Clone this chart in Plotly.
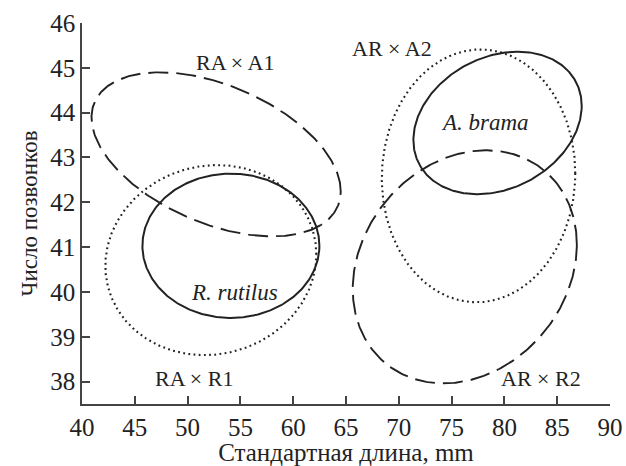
import numpy as np
import plotly.graph_objects as go

# Ellipse parameters (data units)
groups   = ["RA × A1", "R. rutilus", "RA × R1", "A. brama", "AR × A2", "AR × R2"]
center_x = [52.7, 54.1, 52.2, 79.35, 77.55, 76.25]
center_y = [43.07, 41.03, 40.71, 43.77, 42.59, 40.56]
half_x   = [11.8, 8.38, 9.99, 7.97, 9.16, 10.61]
half_y   = [1.83, 1.61, 2.12, 1.59, 2.82, 2.6]
corr     = [-0.45, 0.0, 0.06, 0.24, 0.02, 0.19]
styles   = ["longdash", "solid", "dot", "solid", "dot", "longdash"]

labels       = ["RA × A1", "AR × A2", "A. brama", "R. rutilus", "RA × R1", "AR × R2"]
label_x      = [54.5, 69.4, 78.2, 54.4, 50.6, 83.5]
label_y      = [45.13, 45.44, 43.77, 39.99, 38.07, 38.07]
label_italic = [False, False, True, True, False, False]

x_ticks = [40, 45, 50, 55, 60, 65, 70, 75, 80, 85, 90]
y_ticks = [38, 39, 40, 41, 42, 43, 44, 45, 46]

dash_map = {
    "solid": dict(dash="solid", width=2.0),
    "longdash": dict(dash="20px,8px", width=1.9),
    "dot": dict(dash="1.8px,3.4px", width=2.1),
}

serif = "Liberation Serif"

fig = go.Figure()
t = np.linspace(0, 2 * np.pi, 400)
for i, g in enumerate(groups):
    r = corr[i]
    xs = center_x[i] + half_x[i] * np.cos(t)
    ys = center_y[i] + half_y[i] * (r * np.cos(t) + np.sqrt(1 - r * r) * np.sin(t))
    st = dash_map[styles[i]]
    fig.add_trace(go.Scatter(x=xs, y=ys, mode="lines", name=g, showlegend=False,
                             line=dict(color="#222222", width=st["width"], dash=st["dash"]),
                             hoverinfo="skip"))

for txt, lx, ly, it in zip(labels, label_x, label_y, label_italic):
    fig.add_annotation(x=lx, y=ly, text=f"<i>{txt}</i>" if it else txt, showarrow=False,
                       font=dict(family=serif, size=23 if it else 22, color="#222222"),
                       xanchor="center", yanchor="middle")

fig.update_layout(
    width=626, height=466,
    margin=dict(l=82, r=16, t=23, b=62),
    plot_bgcolor="white", paper_bgcolor="white",
    font=dict(family=serif, size=24, color="#222222"),
)
fig.update_xaxes(range=[40, 90], tickvals=x_ticks, ticks="inside", ticklen=8, tickwidth=1.5,
                 tickcolor="#444", showline=True, linecolor="#444", linewidth=1.6,
                 showgrid=False, zeroline=False, automargin=False, ticklabeloverflow="allow",
                 tickfont=dict(size=25, family=serif, color="#222222"),
                 title=dict(text="Стандартная длина, mm", font=dict(size=25, family=serif), standoff=2))
fig.update_yaxes(range=[37.5, 46], tickvals=y_ticks, ticks="inside", ticklen=8, tickwidth=1.5,
                 tickcolor="#444", showline=True, linecolor="#444", linewidth=1.6,
                 showgrid=False, zeroline=False, automargin=False, ticklabeloverflow="allow",
                 tickfont=dict(size=25, family=serif, color="#222222"),
                 title=dict(text="Число позвонков", font=dict(size=23, family=serif), standoff=6))

fig.write_html("out.html", config={"displayModeBar": False},
               post_script="document.body.style.margin='0px';document.body.style.overflow='hidden';")
